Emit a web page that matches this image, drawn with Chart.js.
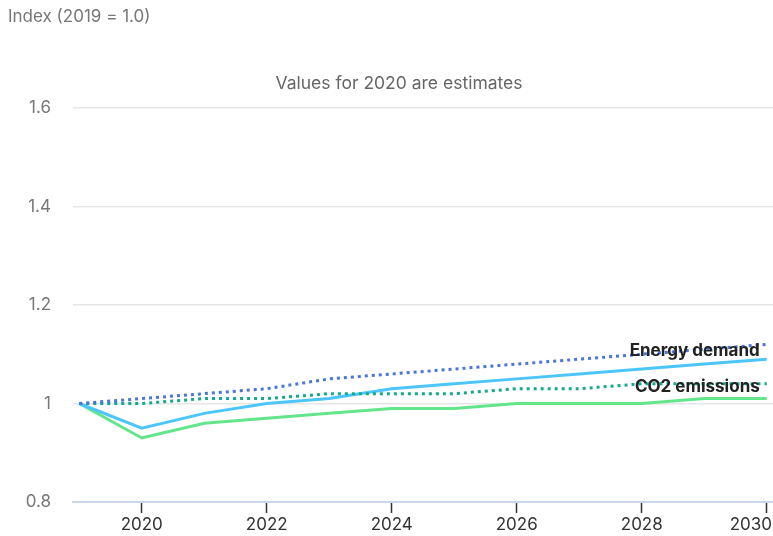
<!DOCTYPE html>
<html>
<head>
<meta charset="utf-8">
<script src="https://cdn.jsdelivr.net/npm/chart.js@4"></script>
<style>
  body { margin: 0; background: #fff; }
  #wrap { width: 773px; height: 536px; position: relative; }
</style>
</head>
<body>
<div id="wrap"><canvas id="myChart"></canvas></div>
<script>
// data
const years = [2019, 2020, 2021, 2022, 2023, 2024, 2025, 2026, 2027, 2028, 2029, 2030];
const energyBefore = [1.00, 1.01, 1.02, 1.03, 1.05, 1.06, 1.07, 1.08, 1.09, 1.10, 1.11, 1.12];
const energyNow    = [1.00, 0.95, 0.98, 1.00, 1.01, 1.03, 1.04, 1.05, 1.06, 1.07, 1.08, 1.09];
const co2Before    = [1.00, 1.00, 1.01, 1.01, 1.02, 1.02, 1.02, 1.03, 1.03, 1.04, 1.04, 1.04];
const co2Now       = [1.00, 0.93, 0.96, 0.97, 0.98, 0.99, 0.99, 1.00, 1.00, 1.00, 1.01, 1.01];
const xTicks = [2020, 2022, 2024, 2026, 2028, 2030];
const yTicks = [0.8, 1, 1.2, 1.4, 1.6];

const FONT = "Inter, 'Open Sans', sans-serif";

function pts(vals) {
  return years.map((y, i) => ({x: y, y: vals[i]}));
}

// texts: axis title, note, x labels (last one kept inside the canvas) and line labels
const textPlugin = {
  id: 'texts',
  afterDatasetsDraw(chart) {
    const ctx = chart.ctx;
    const xs = chart.scales.x, ys = chart.scales.y;
    ctx.save();
    ctx.fillStyle = '#777';
    ctx.font = '17px ' + FONT;
    ctx.textAlign = 'left';
    ctx.textBaseline = 'middle';
    ctx.fillText('Index (2019 = 1.0)', 8, 17);
    ctx.fillStyle = '#666';
    ctx.font = '17.5px ' + FONT;
    ctx.textAlign = 'center';
    ctx.fillText('Values for 2020 are estimates', 399, 84);

    // x tick labels
    ctx.fillStyle = '#333';
    ctx.font = '17px ' + FONT;
    xTicks.forEach(v => {
      const w = ctx.measureText(String(v)).width;
      let cx = xs.getPixelForValue(v);
      cx = Math.min(cx, chart.width - 1 - w / 2);
      ctx.fillText(String(v), cx, xs.bottom - 11);
    });

    ctx.fillStyle = '#222';
    ctx.font = 'bold 17px ' + FONT;
    ctx.textAlign = 'right';
    const last = years.length - 1;
    const xr = xs.getPixelForValue(2030) - 7;
    ctx.fillText('Energy demand', xr, ys.getPixelForValue(energyBefore[last]) + 6);
    ctx.fillText('CO2 emissions', xr, ys.getPixelForValue(co2Before[last]) + 3);
    ctx.restore();
  }
};

new Chart("myChart", {
  type: "line",
  data: {
    datasets: [
      { label: 'Energy demand (pre-crisis)', data: pts(energyBefore), borderColor: '#4a76d6',
        borderWidth: 3, borderDash: [3, 4], pointRadius: 0 },
      { label: 'CO2 emissions (pre-crisis)', data: pts(co2Before), borderColor: '#16a88c',
        borderWidth: 3, borderDash: [3, 4], pointRadius: 0 },
      { label: 'Energy demand', data: pts(energyNow), borderColor: '#4cc6fa',
        borderWidth: 3, pointRadius: 0 },
      { label: 'CO2 emissions', data: pts(co2Now), borderColor: '#62e58b',
        borderWidth: 3, pointRadius: 0 }
    ]
  },
  options: {
    responsive: true,
    maintainAspectRatio: false,
    animation: false,
    layout: { padding: { top: 108, left: 0, right: 0, bottom: 0 } },
    plugins: { legend: { display: false }, tooltip: { enabled: false } },
    scales: {
      x: {
        type: 'linear',
        min: 2018.9,
        max: 2030.1,
        afterBuildTicks(scale) { scale.ticks = xTicks.map(v => ({value: v})); },
        afterFit(scale) { scale.height = 34; scale.paddingLeft = 0; scale.paddingRight = 0; },
        ticks: { color: 'rgba(0,0,0,0)', font: { family: FONT, size: 17 }, padding: 0,
                 callback: v => String(v), maxRotation: 0 },
        grid: { drawOnChartArea: false, drawTicks: true, tickLength: 11, tickColor: '#333', tickWidth: 1.5 },
        border: { display: true, color: '#ccd6eb', width: 2 }
      },
      y: {
        min: 0.8,
        max: 1.6,
        afterBuildTicks(scale) { scale.ticks = yTicks.map(v => ({value: v})); },
        afterFit(scale) { scale.width = 73; scale.paddingTop = 0; scale.paddingBottom = 0; },
        ticks: { color: '#777', font: { family: FONT, size: 17 }, padding: 22,
                 callback: v => String(parseFloat(v.toFixed(1))) },
        grid: { color: '#e6e6e6', drawTicks: false, lineWidth: 1.5 },
        border: { display: false }
      }
    }
  },
  plugins: [textPlugin]
});
</script>
</body>
</html>
